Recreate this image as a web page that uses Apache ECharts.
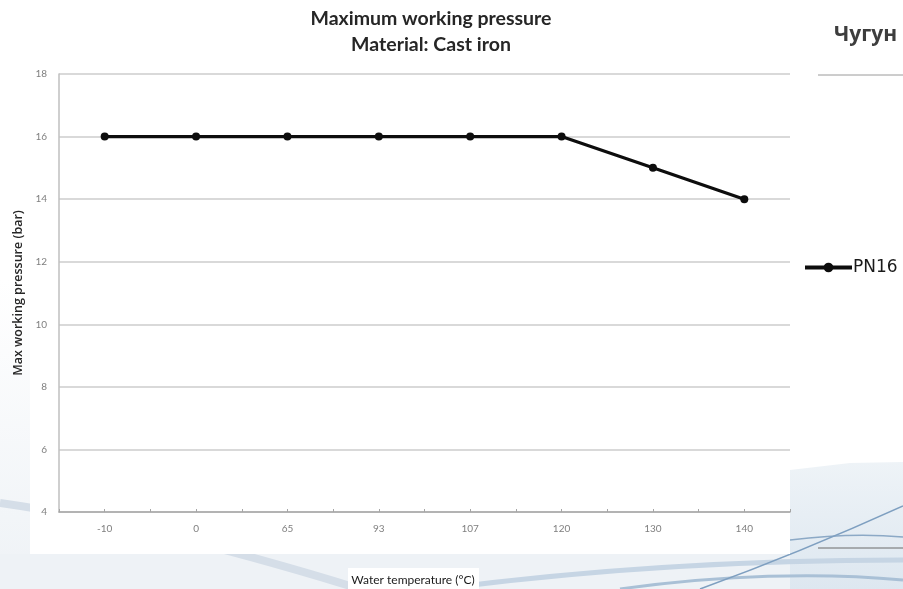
<!DOCTYPE html>
<html>
<head>
<meta charset="utf-8">
<title>Maximum working pressure</title>
<script src="https://cdn.jsdelivr.net/npm/echarts@6/dist/echarts.min.js"></script>
<style>
    html, body { margin: 0; padding: 0; background: #fff; }
    #chart { width: 903px; height: 589px; }
</style>
</head>
<body>
<div id="chart"></div>
<script>
// данные графика
var temps = ['-10', '0', '65', '93', '107', '120', '130', '140'];
var pn16 = [16, 16, 16, 16, 16, 16, 15, 14];
var halfTicks = ['', '', '', '', '', '', '', '', '', '', '', '', '', '', '', ''];

var chart = echarts.init(document.getElementById('chart'));

var option = {
    backgroundColor: '#ffffff',
    title: {
        text: 'Maximum working pressure\nMaterial: Cast iron',
        left: 426,
        textAlign: 'center',
        top: 1,
        textStyle: {
            fontFamily: 'Lato',
            fontWeight: 'bold',
            fontSize: 19.5,
            lineHeight: 26,
            color: '#262626'
        }
    },
    legend: {
        left: 798,
        top: 254,
        itemWidth: 47,
        itemHeight: 12,
        itemGap: 4,
        data: ['PN16'],
        lineStyle: { width: 4 },
        textStyle: {
            fontFamily: 'DejaVu Sans',
            fontSize: 17,
            color: '#1a1a1a',
            padding: [0, 0, 0, -4]
        }
    },
    grid: {
        left: 59,
        right: 113,
        top: 74,
        bottom: 77
    },
    xAxis: [{
        type: 'category',
        data: temps,
        boundaryGap: true,
        axisLine: { lineStyle: { color: '#a6a6a6', width: 1.5 } },
        axisTick: { show: false },
        axisLabel: {
            margin: 12,
            fontFamily: 'Lato',
            fontSize: 10,
            color: '#7f7f7f'
        }
    }, {
        // мелкие засечки на оси X (по половине категории)
        type: 'category',
        data: halfTicks,
        position: 'bottom',
        boundaryGap: true,
        axisLine: { show: false },
        axisLabel: { show: false },
        axisTick: {
            show: true,
            inside: true,
            length: 3,
            interval: 0,
            lineStyle: { color: '#a6a6a6' }
        }
    }],
    yAxis: {
        type: 'value',
        min: 4,
        max: 18,
        interval: 2,
        name: 'Max working pressure (bar)',
        nameLocation: 'middle',
        nameGap: 34,
        nameTextStyle: {
            fontFamily: 'Open Sans',
            fontWeight: 600,
            fontSize: 12.5,
            color: '#262626'
        },
        axisLine: { show: true, lineStyle: { color: '#bfbfbf', width: 1.5 } },
        axisTick: { show: false },
        axisLabel: {
            margin: 12,
            fontFamily: 'Lato',
            fontSize: 10,
            color: '#7f7f7f'
        },
        splitLine: { lineStyle: { color: '#d9d9d9', width: 2 } }
    },
    series: [{
        name: 'PN16',
        type: 'line',
        data: pn16,
        symbol: 'circle',
        symbolSize: 8,
        lineStyle: { color: '#0d0d0d', width: 3.2 },
        itemStyle: { color: '#0d0d0d' },
        z: 5
    }],
    graphic: [
        // светлый фон слева и снизу
        {
            type: 'rect', z: -30, silent: true,
            shape: { x: 0, y: 280, width: 30, height: 309 },
            style: {
                fill: {
                    type: 'linear', x: 0, y: 0, x2: 0, y2: 1,
                    colorStops: [{ offset: 0, color: '#ffffff' }, { offset: 1, color: '#eef2f6' }]
                }
            }
        },
        {
            type: 'rect', z: -30, silent: true,
            shape: { x: 0, y: 554, width: 903, height: 35 },
            style: { fill: '#eef2f6' }
        },
        {
            type: 'polygon', z: -30, silent: true,
            shape: { points: [[790, 470], [850, 463], [903, 462], [903, 589], [790, 589]] },
            style: {
                fill: {
                    type: 'linear', x: 0, y: 0, x2: 0, y2: 1,
                    colorStops: [{ offset: 0, color: '#eef3f7' }, { offset: 1, color: '#dde7f0' }]
                }
            }
        },
        // волны на фоне
        {
            type: 'bezierCurve', z: -25, silent: true,
            shape: { x1: 0, y1: 503, cpx1: 120, cpy1: 520, cpx2: 250, cpy2: 555, x2: 360, y2: 589 },
            style: { stroke: '#d5dee8', lineWidth: 8, fill: null }
        },
        {
            type: 'bezierCurve', z: -25, silent: true,
            shape: { x1: 440, y1: 589, cpx1: 600, cpy1: 568, cpx2: 760, cpy2: 560, x2: 903, y2: 560 },
            style: { stroke: '#c6d5e4', lineWidth: 5, fill: null }
        },
        {
            type: 'bezierCurve', z: -25, silent: true,
            shape: { x1: 620, y1: 589, cpx1: 720, cpy1: 575, cpx2: 820, cpy2: 572, x2: 903, y2: 580 },
            style: { stroke: '#a9c0d6', lineWidth: 3, fill: null }
        },
        {
            type: 'bezierCurve', z: -25, silent: true,
            shape: { x1: 790, y1: 540, cpx1: 830, cpy1: 535, cpx2: 870, cpy2: 534, x2: 903, y2: 537 },
            style: { stroke: '#8ca9c6', lineWidth: 1.5, fill: null }
        },
        {
            type: 'bezierCurve', z: -25, silent: true,
            shape: { x1: 700, y1: 589, cpx1: 780, cpy1: 560, cpx2: 850, cpy2: 530, x2: 903, y2: 506 },
            style: { stroke: '#7e9fc0', lineWidth: 1.5, fill: null }
        },
        // белая подложка диаграммы
        {
            type: 'rect', z: -10, silent: true,
            shape: { x: 30, y: 0, width: 760, height: 554 },
            style: { fill: '#ffffff' }
        },
        // правая колонка
        {
            type: 'text', left: 834, top: 25,
            style: {
                text: 'Чугун',
                fontFamily: 'Open Sans',
                fontWeight: 'bold',
                fontSize: 21,
                fill: '#3d3d3d'
            }
        },
        {
            type: 'line', silent: true,
            shape: { x1: 818, y1: 75, x2: 903, y2: 75 },
            style: { stroke: '#9a9a9a', lineWidth: 1 }
        },
        {
            type: 'line', silent: true,
            shape: { x1: 818, y1: 548, x2: 903, y2: 548 },
            style: { stroke: '#6b6b6b', lineWidth: 1 }
        },
        // подпись оси X
        {
            type: 'group', left: 348, top: 568,
            children: [{
                type: 'rect',
                shape: { x: 0, y: 0, width: 131, height: 21 },
                style: { fill: '#ffffff' }
            }, {
                type: 'text', x: 65, y: 12,
                style: {
                    text: 'Water temperature (°C)',
                    align: 'center',
                    verticalAlign: 'middle',
                    fontFamily: 'Lato',
                    fontSize: 12,
                    fill: '#1a1a1a'
                }
            }]
        }
    ]
};
chart.setOption(option);
</script>
</body>
</html>
